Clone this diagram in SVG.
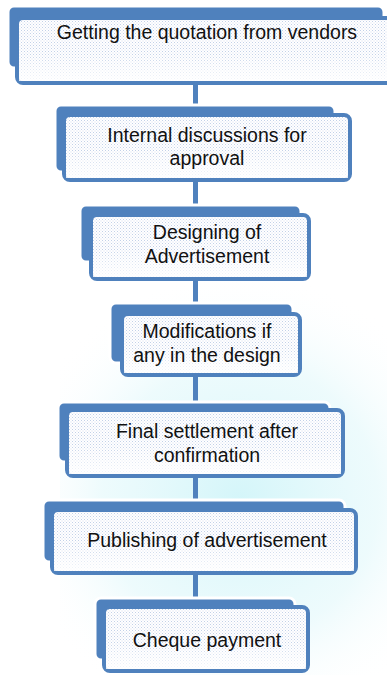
<svg xmlns="http://www.w3.org/2000/svg" width="387" height="675" viewBox="0 0 387 675">
<defs>
<pattern id="dots" width="3" height="3" patternUnits="userSpaceOnUse">
<rect width="3" height="3" fill="#ffffff"/>
<rect x="0" y="0" width="1" height="1" fill="#c3d1e8"/>
<rect x="1.5" y="1.5" width="1" height="1" fill="#d3def0"/>
</pattern>
<linearGradient id="fade" x1="0" y1="0" x2="0" y2="1">
<stop offset="0" stop-color="#ffffff" stop-opacity="0"/>
<stop offset="0.55" stop-color="#ffffff" stop-opacity="0"/>
<stop offset="1" stop-color="#ffffff" stop-opacity="0.85"/>
</linearGradient>
<radialGradient id="glow" cx="240" cy="500" r="230" gradientUnits="userSpaceOnUse">
<stop offset="0" stop-color="#c9f3f8" stop-opacity="0.8"/>
<stop offset="0.6" stop-color="#dcf7fa" stop-opacity="0.5"/>
<stop offset="1" stop-color="#ffffff" stop-opacity="0"/>
</radialGradient>
</defs>
<style>
.back{fill:#4f81bd;stroke:#ffffff;stroke-width:3}
.front{fill:url(#dots);stroke:#4f81bd;stroke-width:4}
.shade{fill:url(#fade);stroke:none}
.conn{fill:#4f81bd}
text{font-family:"Liberation Sans",Arial,sans-serif;font-size:19.5px;fill:#111111;text-anchor:middle}
</style>
<rect width="387" height="675" fill="#ffffff"/>
<rect x="60" y="260" width="327" height="415" fill="url(#glow)"/>
<g id="connectors">
<rect class="conn" x="193" y="84" width="5" height="22"/>
<rect class="conn" x="193" y="181" width="5" height="25"/>
<rect class="conn" x="193" y="280" width="5" height="24"/>
<rect class="conn" x="193" y="376" width="5" height="27"/>
<rect class="conn" x="193" y="477" width="5" height="24"/>
<rect class="conn" x="193" y="574" width="5" height="25"/>
</g>
<g id="n1">
<rect class="back" x="8" y="6" width="376" height="62" rx="6"/>
<rect class="front" x="17" y="18" width="376" height="65" rx="6"/>
<rect class="shade" x="19" y="20" width="372" height="61"/>
<text x="207" y="39">Getting the quotation from vendors</text>
</g>
<g id="n2">
<rect class="back" x="55" y="105" width="280" height="67" rx="6"/>
<rect class="front" x="64" y="115" width="286" height="65" rx="6"/>
<rect class="shade" x="66" y="117" width="282" height="61"/>
<text x="207" y="142">Internal discussions for</text>
<text x="207" y="165">approval</text>
</g>
<g id="n3">
<rect class="back" x="80" y="205" width="221" height="57" rx="6"/>
<rect class="front" x="91" y="215" width="218" height="64" rx="6"/>
<rect class="shade" x="93" y="217" width="214" height="60"/>
<text x="207" y="239">Designing of</text>
<text x="207" y="263">Advertisement</text>
</g>
<g id="n4">
<rect class="back" x="110" y="303" width="183" height="60" rx="6"/>
<rect class="front" x="122" y="314" width="178" height="61" rx="6"/>
<rect class="shade" x="124" y="316" width="174" height="57"/>
<text x="207" y="338">Modifications if</text>
<text x="207" y="362">any in the design</text>
</g>
<g id="n5">
<rect class="back" x="58" y="402" width="272" height="60" rx="6"/>
<rect class="front" x="67" y="410" width="276" height="66" rx="6"/>
<rect class="shade" x="69" y="412" width="272" height="62"/>
<text x="207" y="438">Final settlement after</text>
<text x="207" y="462">confirmation</text>
</g>
<g id="n6">
<rect class="back" x="43" y="500" width="302" height="62" rx="6"/>
<rect class="front" x="52" y="510" width="304" height="63" rx="6"/>
<rect class="shade" x="54" y="512" width="300" height="59"/>
<text x="207" y="547">Publishing of advertisement</text>
</g>
<g id="n7">
<rect class="back" x="95" y="598" width="200" height="62" rx="6"/>
<rect class="front" x="104" y="607" width="204" height="64" rx="6"/>
<rect class="shade" x="106" y="609" width="200" height="60"/>
<text x="207" y="647">Cheque payment</text>
</g>
</svg>
